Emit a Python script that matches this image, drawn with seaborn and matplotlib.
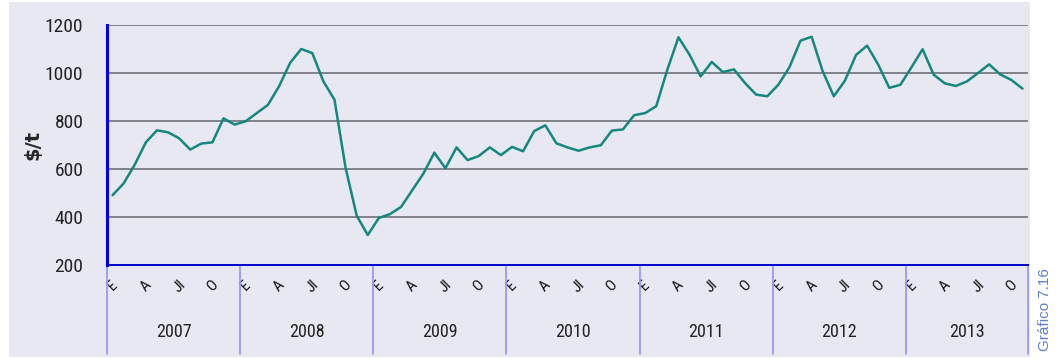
import matplotlib
matplotlib.use("Agg")
import matplotlib.pyplot as plt
import matplotlib.transforms as mtransforms
from matplotlib import font_manager
from matplotlib.patches import Rectangle
import numpy as np
import pandas as pd
import seaborn as sns

# Monthly price, $/t, January 2007 - November 2013
years = [2007, 2008, 2009, 2010, 2011, 2012, 2013]
month_marks = ["E", "A", "Jl", "O"]
price_2007 = [491, 540, 618, 711, 761, 753, 728, 681, 706, 711, 811, 785]
price_2008 = [799, 833, 867, 944, 1042, 1100, 1083, 965, 889, 605, 406, 325]
price_2009 = [396, 412, 442, 511, 580, 668, 603, 690, 637, 654, 690, 658]
price_2010 = [692, 674, 758, 782, 707, 690, 676, 690, 699, 760, 765, 824]
price_2011 = [833, 862, 1014, 1149, 1076, 986, 1046, 1004, 1015, 958, 910, 903]
price_2012 = [951, 1024, 1135, 1151, 1007, 903, 968, 1075, 1114, 1035, 938, 951]
price_2013 = [1024, 1099, 993, 957, 946, 965, 1000, 1036, 994, 971, 935]
y_ticks = [200, 400, 600, 800, 1000, 1200]
y_label = "\\$/t"
chart_id = "Gráfico 7.16"

series = [price_2007, price_2008, price_2009, price_2010,
          price_2011, price_2012, price_2013]
rows = []
for yr, vals in zip(years, series):
    for m, v in enumerate(vals):
        rows.append({"year": yr, "month": m, "price": v})
df = pd.DataFrame(rows)
df["idx"] = np.arange(len(df))
n = len(df)

sns.set_style("white")

# pick a narrow face for the axis labels if one is installed
available = {f.name for f in font_manager.fontManager.ttflist}
narrow = None
for cand in ["Roboto Condensed", "Liberation Sans Narrow", "Open Sans Condensed"]:
    if cand in available:
        narrow = cand
        break
if narrow is None:
    narrow = "DejaVu Sans"
    stretch = "condensed"
else:
    stretch = "normal"
plt.rcParams["font.family"] = [narrow, "DejaVu Sans"]

bg = "#e8e8f3"
line_c = "#14877f"
grid_c = "#6f6f78"
blue = "#0000ee"
sep_c = "#9a9af2"

fig = plt.figure(figsize=(10.59, 3.59), dpi=100)
fig.patch.set_facecolor("white")
fig.patches.append(Rectangle((9 / 1059, 2 / 359), (1030 - 9) / 1059, (357 - 2) / 359,
                             transform=fig.transFigure, facecolor=bg,
                             edgecolor="none", zorder=-10))

ax = fig.add_axes([107 / 1059, 1 - 265 / 359, (1028 - 107) / 1059, 240 / 359])
ax.set_facecolor(bg)

sns.lineplot(data=df, x="idx", y="price", ax=ax, color=line_c, linewidth=1.8,
             zorder=3)

ax.set_xlim(-0.5, n - 0.5)
ax.set_ylim(y_ticks[0], y_ticks[-1])
ax.set_yticks(y_ticks)
ax.set_yticklabels([str(t) for t in y_ticks], fontsize=14, fontstretch=stretch,
                   color="#222222")
for yv in y_ticks[1:]:
    ax.axhline(yv, color=grid_c, linewidth=1.2, zorder=1)

for side in ["top", "right"]:
    ax.spines[side].set_visible(False)
ax.spines["left"].set_color(blue)
ax.spines["left"].set_linewidth(2.2)
ax.spines["bottom"].set_color("#0000cc")
ax.spines["bottom"].set_linewidth(1.4)
ax.tick_params(axis="y", direction="out", length=5, width=2, color=blue, pad=12)

# month markers inside each year
tick_pos, tick_lab = [], []
for k, yr in enumerate(years):
    for j, lab in zip([0, 3, 6, 9], month_marks):
        p = k * 12 + j
        if p < n:
            tick_pos.append(p)
            tick_lab.append(lab)
ax.set_xticks(tick_pos)
ax.set_xticklabels(tick_lab, rotation=45, ha="center", fontsize=11,
                   fontstretch=stretch, color="#111111")
ax.tick_params(axis="x", length=0, pad=9)
ax.set_xlabel("")

ax.set_ylabel(y_label, fontsize=14, fontweight="bold", family="DejaVu Sans")
ax.yaxis.set_label_coords(-0.070, 0.5)

# year bands below the axis
trans = mtransforms.blended_transform_factory(ax.transData, ax.transAxes)
bounds = [k * 12 - 0.5 for k in range(len(years))] + [n - 0.5]
for b in bounds:
    ax.plot([b, b], [0, -0.37], transform=trans, color=sep_c, linewidth=1.3,
            clip_on=False, zorder=2)
for k, yr in enumerate(years):
    lo, hi = bounds[k], bounds[k + 1]
    ax.text((lo + hi) / 2, -0.28, str(yr), transform=trans, ha="center",
            va="center", fontsize=13, fontstretch=stretch, color="#222222")

fig.text(1045 / 1059, 1 - 310 / 359, chart_id, rotation=90, ha="center",
         va="center", fontsize=11, color="#5b7fd2",
         family=["Liberation Sans", "DejaVu Sans"])

fig.savefig("out.png", dpi=100, facecolor="white")
